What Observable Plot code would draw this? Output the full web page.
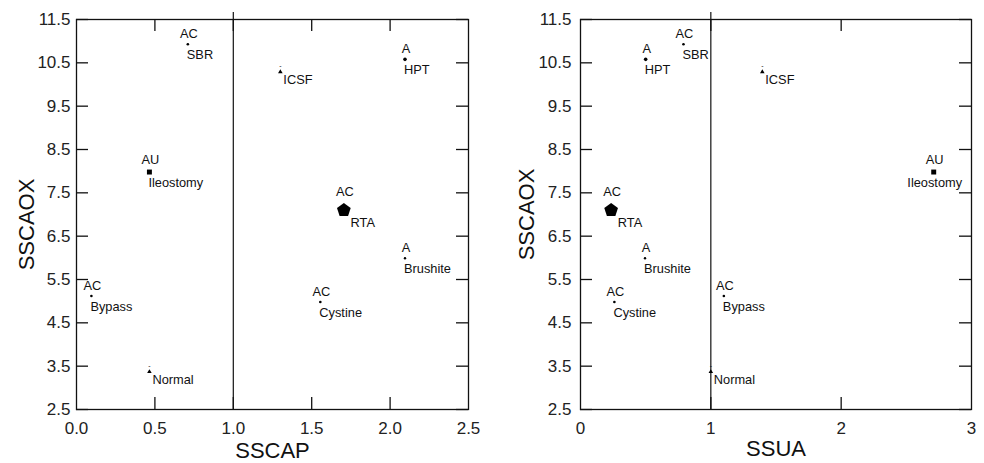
<!DOCTYPE html>
<html><head><meta charset="utf-8">
<script src="https://cdn.jsdelivr.net/npm/d3@7"></script>
<script src="https://cdn.jsdelivr.net/npm/@observablehq/plot@0.6"></script>
<style>
body{margin:0;background:#fff;}
#wrap{display:flex;width:984px;height:463px;overflow:hidden;}
</style></head><body><div id="wrap"></div>
<script>
// ---- data ----
const groups = ["SBR", "HPT", "ICSF", "RTA", "Brushite", "Cystine", "Bypass", "Ileostomy", "Normal"];
const tags   = ["AC", "A", "-", "AC", "A", "AC", "AC", "AU", "-"];
const sscap  = [0.71, 2.095, 1.30, 1.705, 2.095, 1.555, 0.095, 0.465, 0.465];
const ssua   = [0.79, 0.50, 1.395, 0.235, 0.495, 0.26, 1.10, 2.71, 1.00];
const sscaox = [10.93, 10.58, 10.29, 7.10, 5.99, 4.98, 5.12, 7.98, 3.37];

const yTicks = [2.5, 3.5, 4.5, 5.5, 6.5, 7.5, 8.5, 9.5, 10.5, 11.5];
const xTicksCap = [0, 0.5, 1, 1.5, 2, 2.5];
const xTicksUa = [0, 1, 2, 3];
const refLine = [1];

// ---- styles ----
const pentagon = {
  draw(ctx, size) {
    const R = Math.sqrt(size / Math.PI);
    for (let i = 0; i < 5; i++) {
      const a = -Math.PI / 2 + i * 2 * Math.PI / 5;
      const px = R * Math.cos(a), py = R * Math.sin(a);
      if (i) ctx.lineTo(px, py); else ctx.moveTo(px, py);
    }
    ctx.closePath();
  }
};
const markerStyle = {
  SBR: {symbol: "circle", r: 1.3},
  HPT: {symbol: "circle", r: 1.8},
  ICSF: {symbol: "triangle", r: 1.7},
  RTA: {symbol: pentagon, r: 7.2},
  Brushite: {symbol: "circle", r: 1.2},
  Cystine: {symbol: "circle", r: 1.3},
  Bypass: {symbol: "circle", r: 1.3},
  Ileostomy: {symbol: "square", r: 2.8},
  Normal: {symbol: "triangle", r: 1.7}
};
const FONT = "'Liberation Sans', Arial, Helvetica, sans-serif";
const LABEL_SIZE = 12.8;

function panel(o) {
  const W = 492, H = 463, mt = 19, mb = 54;
  const fw = W - o.ml - o.mr, fh = H - mt - mb;
  const rows = groups.map((g, i) => ({g, tag: tags[i], x: o.xs[i], y: sscaox[i], ...markerStyle[g]}));
  const marks = [
    Plot.frame({stroke: "#111", strokeWidth: 1.3}),
    Plot.ruleY(yTicks, {y: d => d, insetRight: fw - 12, stroke: "#111", strokeWidth: 1.3}),
    Plot.ruleY(yTicks, {y: d => d, insetLeft: fw - 12, stroke: "#111", strokeWidth: 1.3}),
    Plot.ruleX(o.innerTicks, {x: d => d, insetBottom: fh - 12, stroke: "#111", strokeWidth: 1.3}),
    Plot.ruleX(o.innerTicks, {x: d => d, insetTop: fh - 12, stroke: "#111", strokeWidth: 1.3}),
    Plot.ruleX(refLine, {x: d => d, insetTop: -7, stroke: "#111", strokeWidth: 1.2}),
    Plot.axisY(yTicks, {tickSize: 0, tickPadding: o.yPad, fontSize: 17, tickFormat: d3.format(".1f"), label: null, fill: "#222"}),
    Plot.axisX(o.xLabelTicks, {tickSize: 0, tickPadding: 12, fontSize: 17, tickFormat: o.xFormat, label: null, fill: "#222"}),
    Plot.text([o.xLabel], {frameAnchor: "bottom", text: d => d, dy: o.xLabelDy, lineAnchor: "bottom", fontSize: 22, fill: "#111"}),
    Plot.text(["SSCAOX"], {frameAnchor: "left", text: d => d, rotate: -90, dx: o.yLabelDx, dy: o.yLabelDy, lineAnchor: "bottom", textAnchor: "middle", fontSize: 22, fill: "#111"})
  ];
  for (const d of rows) {
    marks.push(Plot.dot([d], {x: "x", y: "y", symbol: d.symbol, r: d.r, fill: "black", stroke: "none"}));
    const edge = d.x > o.domain[1] * 0.85;
    marks.push(Plot.text([d], {
      x: "x", y: "y", text: "g", fontSize: LABEL_SIZE, fill: "#111",
      textAnchor: edge ? "middle" : "start", lineAnchor: "bottom",
      dx: edge ? 1 : (d.r > 4 ? d.r - 0.5 : (d.symbol === "triangle" ? 3 : -1)),
      dy: d.symbol === "triangle" ? 12.5 : 14.5 + d.r * 0.3
    }));
    if (d.tag === "-") {
      marks.push(Plot.text([d], {x: "x", y: "y", text: "tag", fontSize: 7, fill: "#111", lineAnchor: "bottom", dy: -4}));
    } else {
      marks.push(Plot.text([d], {x: "x", y: "y", text: "tag", fontSize: LABEL_SIZE, fill: "#111", textAnchor: "middle", lineAnchor: "bottom", dx: 1, dy: -(4.5 + d.r * 1.3)}));
    }
  }
  return Plot.plot({
    width: W, height: H,
    marginLeft: o.ml, marginRight: o.mr, marginTop: mt, marginBottom: mb,
    x: {domain: o.domain, axis: null},
    y: {domain: [2.5, 11.5], axis: null},
    style: {fontFamily: FONT, background: "white", overflow: "visible", color: "#111"},
    marks
  });
}

const wrap = document.getElementById("wrap");
wrap.appendChild(panel({
  xs: sscap, domain: [0, 2.5], innerTicks: [0.5, 1, 1.5, 2], xLabelTicks: xTicksCap,
  xFormat: d3.format(".1f"), xLabel: "SSCAP", ml: 76, mr: 24, yPad: 6,
  xLabelDy: 48, yLabelDx: -43, yLabelDy: 10
}));
wrap.appendChild(panel({
  xs: ssua, domain: [0, 3], innerTicks: [1, 2], xLabelTicks: xTicksUa,
  xFormat: d => String(d), xLabel: "SSUA", ml: 88, mr: 13, yPad: 9,
  xLabelDy: 46, yLabelDx: -47, yLabelDy: 0
}));
</script></body></html>
